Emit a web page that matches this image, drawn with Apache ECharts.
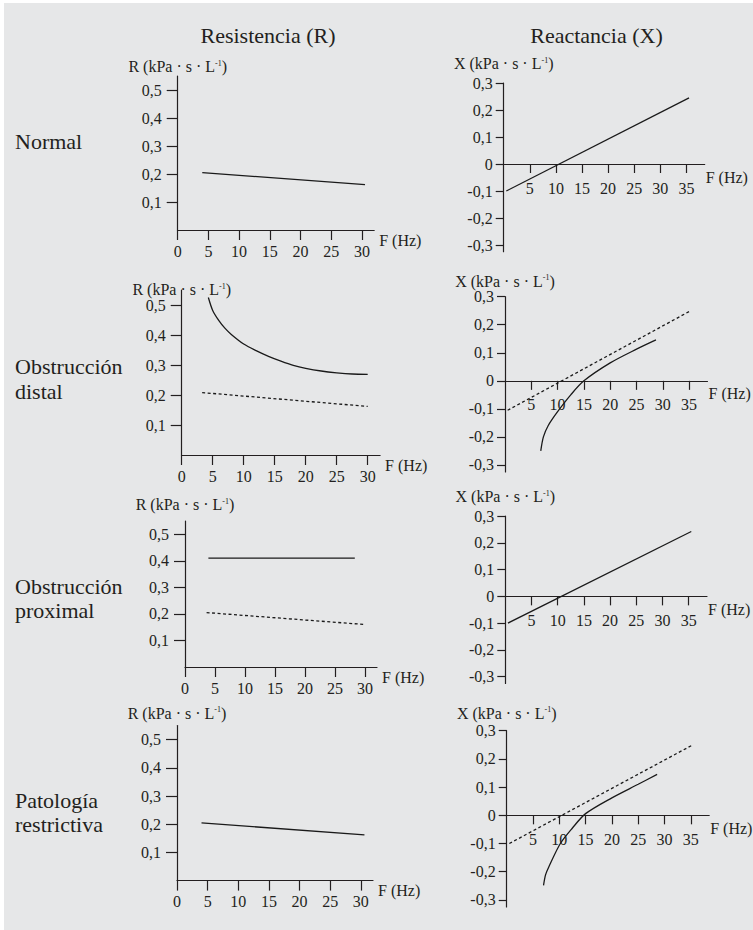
<!DOCTYPE html>
<html>
<head>
<meta charset="utf-8">
<script src="https://cdn.jsdelivr.net/npm/echarts@6/dist/echarts.min.js"></script>
<style>
  html, body { margin: 0; padding: 0; background: #fff; }
  #bg { position: absolute; left: 4px; top: 3px; width: 749px; height: 927px; background: #e6e7e8; }
  #chart { position: absolute; left: 0; top: 0; width: 753px; height: 930px; }
</style>
</head>
<body>
<div id="bg"></div>
<div id="chart"></div>
<script>
// texts
const colTitles = ['Resistencia (R)', 'Reactancia (X)'];
const rowTitles = [['Normal'], ['Obstrucción', 'distal'], ['Obstrucción', 'proximal'], ['Patología', 'restrictiva']];

// ticks
const rTicks = [0.1, 0.2, 0.3, 0.4, 0.5];
const rFreqTicks = [0, 5, 10, 15, 20, 25, 30];
const xTicks = [-0.3, -0.2, -0.1, 0, 0.1, 0.2, 0.3];
const xFreqTicks = [5, 10, 15, 20, 25, 30, 35];

// resistencia [F, R]
const rNormal = [[4, 0.205], [30.5, 0.162]];
const rDistal = [[4.3, 0.525], [5, 0.482], [6, 0.448], [7, 0.422], [8, 0.402], [10, 0.37], [12, 0.348],
  [14, 0.329], [16, 0.313], [18, 0.299], [20, 0.289], [22.5, 0.28], [25, 0.274], [27.5, 0.27], [30, 0.269]];
const rDistalRef = [[3.3, 0.208], [30, 0.162]];
const rProximal = [[3.9, 0.41], [28.3, 0.41]];
const rProximalRef = [[3.6, 0.205], [30, 0.16]];
const rRestrictive = [[4, 0.205], [30.6, 0.162]];

// reactancia [F, X]
const xNormal = [[0.5, -0.1], [35.5, 0.245]];
const xDistal = [[6.8, -0.25], [7.3, -0.2], [8.2, -0.16], [10, -0.11], [12.5, -0.05], [15, 0],
  [20, 0.064], [25, 0.113], [28.7, 0.146]];
const xDistalRef = [[0.5, -0.105], [35.3, 0.25]];
const xProximal = [[0.5, -0.1], [35.5, 0.242]];
const xRestrictive = [[7, -0.248], [7.4, -0.21], [8, -0.183], [10.2, -0.1], [12.5, -0.045], [15, 0.006],
  [20, 0.062], [25, 0.11], [28.6, 0.145]];
const xRestrictiveRef = [[0.5, -0.1], [35.4, 0.25]];

// grid boxes (px): R column then X column
const rBoxes = [
  { l: 177.7, t: 76, w: 196.5, h: 154, gap: 1 },
  { l: 181.7, t: 290, w: 198.4, h: 165, gap: -8 },
  { l: 185, t: 521, w: 192, h: 146, gap: 8 },
  { l: 177, t: 725.6, w: 196, h: 155, gap: 4 }
];
const xBoxes = [
  { l: 503.7, t: 83, w: 201, h: 168.75, gap: 11 },
  { l: 505, t: 296.7, w: 202.5, h: 175.3, gap: 7 },
  { l: 505.3, t: 516, w: 201.7, h: 167.4, gap: 11 },
  { l: 506.7, t: 730.7, w: 202.5, h: 176.3, gap: 9 }
];
const rowLabelY = [[141.7], [366.7, 391.7], [586, 610], [800, 824.3]];

const ink = '#231f20';
const font = 'Liberation Serif';
const comma = (v) => String(v).replace('.', ',');

const grids = [], xAxes = [], yAxes = [], series = [];

function addPanel(box, isR) {
  const i = grids.length;
  const yMin = isR ? 0 : -0.325;
  const yMax = isR ? 0.55 : 0.3;
  // raise the F axis to the zero line of the reactance panels
  const lift = isR ? 0 : -box.h * (0 - yMin) / (yMax - yMin);
  grids.push({ left: box.l, top: box.t, width: box.w, height: box.h, containLabel: false, outerBoundsMode: 'none' });
  const line = { show: true, onZero: false, lineStyle: { color: ink, width: 1.2 } };
  xAxes.push({
    gridIndex: i, type: 'value', min: 0, max: isR ? 32 : 38.5, offset: lift,
    splitLine: { show: false },
    axisLine: line,
    axisTick: { show: true, inside: false, length: isR ? 10 : 9, lineStyle: { color: ink, width: 1.2 },
      customValues: isR ? rFreqTicks : xFreqTicks },
    axisLabel: { color: ink, fontFamily: font, fontSize: 16, margin: isR ? 13 : 16,
      customValues: isR ? rFreqTicks : xFreqTicks },
    name: 'F (Hz)', nameLocation: 'end', nameGap: isR ? 5 : 1, nameMoveOverlap: false,
    nameTextStyle: { color: ink, fontFamily: font, fontSize: 16, verticalAlign: 'top', padding: [isR ? 2 : 5, 0, 0, 0] }
  });
  yAxes.push({
    gridIndex: i, type: 'value', min: yMin, max: yMax,
    splitLine: { show: false },
    axisLine: line,
    axisTick: { show: true, inside: false, length: isR ? 11 : 8, lineStyle: { color: ink, width: 1.2 },
      customValues: isR ? rTicks : xTicks },
    axisLabel: { color: ink, fontFamily: font, fontSize: 16, margin: isR ? 16 : 11,
      customValues: isR ? rTicks : xTicks, formatter: comma },
    name: (isR ? '{a|R (kPa · s · L}' : '{a|X (kPa · s · L}') + '{s|-1}{a|)}',
    nameLocation: 'end', nameGap: box.gap, nameMoveOverlap: false,
    nameTextStyle: {
      color: ink, fontFamily: font,
      rich: {
        a: { color: ink, fontFamily: font, fontSize: 16, lineHeight: 17 },
        s: { color: ink, fontFamily: font, fontSize: 8, lineHeight: 17, verticalAlign: 'top', padding: [1, 0, 0, 0] }
      }
    }
  });
  return i;
}

function addLine(idx, data, dashed, smooth) {
  series.push({
    type: 'line', xAxisIndex: idx, yAxisIndex: idx, data: data,
    showSymbol: false, smooth: smooth ? 0.3 : false, silent: true,
    lineStyle: { color: '#1a1a1a', width: 1.3, type: dashed ? [3, 2.5] : 'solid' }
  });
}

const rIdx = rBoxes.map((b) => addPanel(b, true));
const xIdx = xBoxes.map((b) => addPanel(b, false));

addLine(rIdx[0], rNormal, false, false);
addLine(rIdx[1], rDistal, false, true);
addLine(rIdx[1], rDistalRef, true, false);
addLine(rIdx[2], rProximal, false, false);
addLine(rIdx[2], rProximalRef, true, false);
addLine(rIdx[3], rRestrictive, false, false);

addLine(xIdx[0], xNormal, false, false);
addLine(xIdx[1], xDistalRef, true, false);
addLine(xIdx[1], xDistal, false, true);
addLine(xIdx[2], xProximal, false, false);
addLine(xIdx[3], xRestrictiveRef, true, false);
addLine(xIdx[3], xRestrictive, false, true);

const texts = [];
texts.push({ text: colTitles[0], x: 268, y: 35, align: 'center' });
texts.push({ text: colTitles[1], x: 596.5, y: 35, align: 'center' });
rowTitles.forEach((lines, r) => {
  lines.forEach((t, k) => texts.push({ text: t, x: 15, y: rowLabelY[r][k], align: 'left' }));
});

const chart = echarts.init(document.getElementById('chart'), null, { renderer: 'svg' });
chart.setOption({
  animation: false,
  backgroundColor: 'transparent',
  grid: grids,
  xAxis: xAxes,
  yAxis: yAxes,
  series: series,
  graphic: texts.map((t) => ({
    type: 'text', x: t.x, y: t.y, silent: true,
    style: { text: t.text, fill: ink, fontFamily: font, fontSize: 22, textAlign: t.align, textVerticalAlign: 'middle' }
  }))
});
</script>
</body>
</html>
